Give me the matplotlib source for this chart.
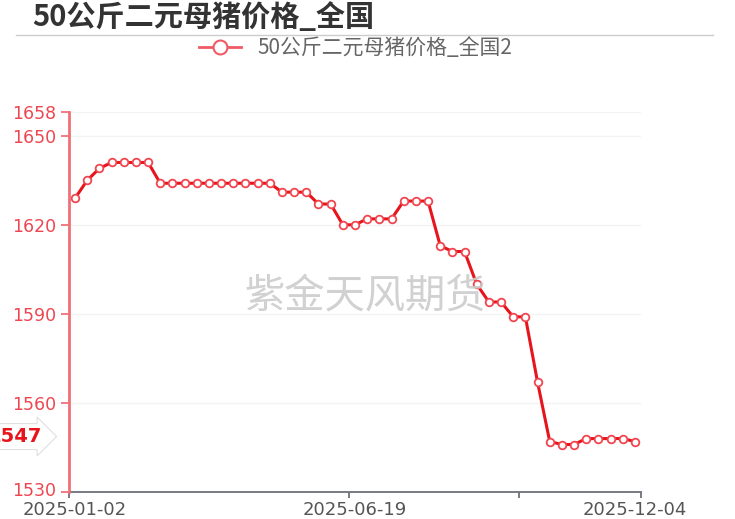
import matplotlib
matplotlib.use("Agg")
import matplotlib.pyplot as plt
from matplotlib.lines import Line2D
from matplotlib.transforms import ScaledTranslation
import datetime as dt

plt.rcParams['font.family'] = ['Noto Sans CJK SC', 'DejaVu Sans']

# ---- data ----
start = dt.date(2025, 1, 2)
skip_weeks = [4, 39]  # 2025-01-30, 2025-10-02 not reported
dates = [(start + dt.timedelta(weeks=k)).isoformat() for k in range(49) if k not in skip_weeks]

values = [1629, 1635, 1639, 1641, 1641, 1641, 1641,
          1634, 1634, 1634, 1634, 1634, 1634, 1634, 1634, 1634, 1634,
          1631, 1631, 1631, 1627, 1627, 1620, 1620,
          1622, 1622, 1622, 1628, 1628, 1628,
          1613, 1611, 1611, 1600, 1594, 1594, 1589, 1589,
          1567, 1547, 1546, 1546, 1548, 1548, 1548, 1548, 1547]

title = "50公斤二元母猪价格_全国"
series_name = "50公斤二元母猪价格_全国2"
watermark = "紫金天风期货"
y_ticks = [1530, 1560, 1590, 1620, 1650, 1658]
x_label_idx = [0, 23, 46]
x_tick_bounds = [-0.5, 22.5, 36.5, 46.5]

W, H = 735, 519
fig = plt.figure(figsize=(W / 100, H / 100), dpi=100)
ax = fig.add_axes([69 / W, 1 - 492 / H, (641 - 69) / W, (492 - 112) / H])

x = list(range(len(values)))
line_color = '#e8141c'
ax.plot(x, values, color=line_color, lw=2.2, marker='o', ms=5.5,
        mfc='white', mec='#f04650', mew=1.3, zorder=3, clip_on=False)

ax.set_xlim(-0.5, len(values) - 0.5)
ax.set_ylim(y_ticks[0], y_ticks[-1])

# y axis
ax.set_yticks(y_ticks)
ax.set_yticklabels([str(v) for v in y_ticks], color='#ee4650', fontsize=12.5,
                   family=['DejaVu Sans'])
ax.tick_params(axis='y', length=6, width=1.3, color='#f07078', pad=3)
for v in y_ticks:
    ax.axhline(v, color='#f3f3f3', lw=1, zorder=0)
lbl0 = ax.get_yticklabels()[0]
lbl0.set_transform(lbl0.get_transform() + ScaledTranslation(0, 2 / 72, fig.dpi_scale_trans))

# x axis
ax.set_xticks(x_tick_bounds)
ax.set_xticklabels([''] * len(x_tick_bounds))
ax.set_xticks(x_label_idx, minor=True)
ax.set_xticklabels([dates[i] for i in x_label_idx], minor=True,
                   color='#555555', fontsize=13, family=['DejaVu Sans'])
ax.tick_params(axis='x', which='major', length=4, width=1.3, color='#6e7079')
ax.tick_params(axis='x', which='minor', length=0, pad=6.5)

for s in ['top', 'right']:
    ax.spines[s].set_visible(False)
ax.spines['left'].set_color('#f07078')
ax.spines['left'].set_linewidth(2)
ax.spines['bottom'].set_color('#6e7079')
ax.spines['bottom'].set_linewidth(1.3)
ax.spines['left'].set_zorder(4)

# last-value label on the y axis
ax.annotate(str(values[-1]), xy=(0, values[-1]), xycoords=('axes fraction', 'data'),
            xytext=(-19, 3.6), textcoords='offset points', ha='right', va='center',
            fontsize=14, fontweight='bold', color='#e8141c', family=['DejaVu Sans'],
            bbox=dict(boxstyle='rarrow,pad=0.18', fc='white', ec='#e0e0e0', lw=0.8),
            annotation_clip=False)

# title and separator
fig.text(32 / W, 1 - 17 / H, title, fontsize=21, fontweight='bold', color='#333333',
         ha='left', va='center')
fig.add_artist(Line2D([16 / W, 713 / W], [1 - 35 / H, 1 - 35 / H], color='#cccccc', lw=1))

# legend
handle = Line2D([], [], color='#f05a66', lw=2, marker='o', ms=10, mfc='white',
                mec='#f05a66', mew=1.5)
fig.legend([handle], [series_name], loc='center', bbox_to_anchor=(0.484, 1 - 48 / H),
           frameon=False, fontsize=15, labelcolor='#666666', handlelength=2.0,
           handletextpad=0.8)

# watermark
fig.text(0.497, 1 - 296 / H, watermark, fontsize=29, color='#cccccc', ha='center',
         va='center', alpha=0.9, zorder=0)

fig.savefig('out.png', dpi=100, facecolor='white')
